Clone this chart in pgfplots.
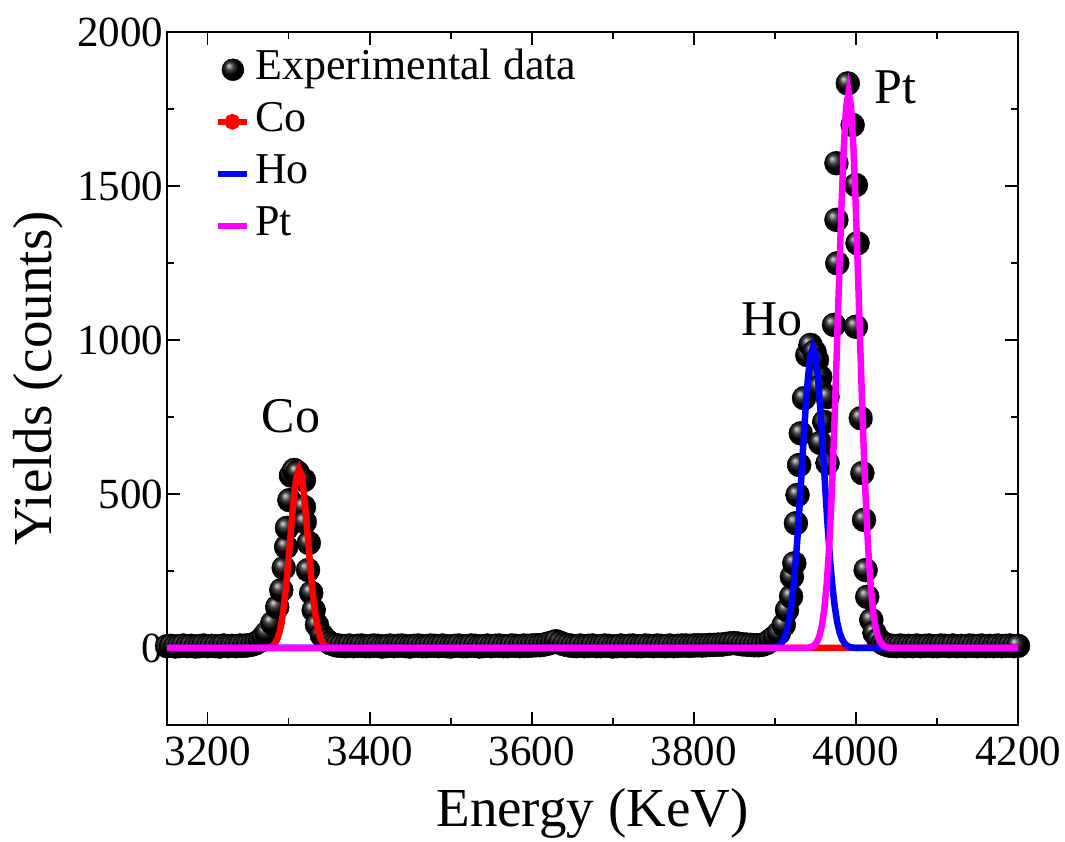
\documentclass[border=0pt]{standalone}
\usepackage{fontspec}
\setmainfont{Liberation Serif}
\usepackage{pgfplots}
\pgfplotsset{compat=1.18}
\usepackage{pgfplotstable}

\definecolor{fitred}{RGB}{255,0,0}
\definecolor{fitblue}{RGB}{0,0,255}
\definecolor{fitmag}{RGB}{255,0,255}

% measured spectrum
\pgfplotstableread{
E Y
3150 6
3155 7
3160 5
3165 6
3170 8
3175 6
3180 7
3185 5
3190 6
3195 8
3200 6
3205 7
3210 6
3215 5
3220 8
3225 6
3230 7
3235 6
3240 8
3245 7
3250 9
3255 11
3260 16
3265 24
3269 36
3273 49
3280 81
3286 133
3291 188
3294 260
3297 328
3298 390
3301 480
3303 560
3307 578
3311 570
3319 545
3319 458
3320 409
3325 341
3324 253
3328 179
3331 123
3335 75
3341 42
3346 26
3351 16
3356 11
3360 8
3365 7
3370 6
3375 8
3380 6
3385 7
3390 8
3395 6
3400 6
3405 8
3410 7
3415 5
3420 6
3425 8
3430 6
3435 7
3440 8
3445 6
3450 5
3455 7
3460 8
3465 6
3470 6
3475 8
3480 7
3485 6
3490 8
3495 6
3500 5
3505 7
3510 8
3515 6
3520 6
3525 8
3530 7
3535 5
3540 6
3545 8
3550 6
3555 7
3560 8
3565 6
3570 6
3575 8
3580 7
3585 6
3590 8
3595 7
3600 8
3605 9
3610 9
3615 11
3620 14
3625 18
3630 22
3635 17
3640 12
3645 9
3650 7
3655 6
3660 8
3665 6
3670 7
3675 8
3680 6
3685 6
3690 8
3695 7
3700 5
3705 6
3710 8
3715 6
3720 7
3725 8
3730 6
3735 6
3740 8
3745 7
3750 6
3755 8
3760 7
3765 6
3770 8
3775 6
3780 7
3785 8
3790 8
3795 7
3800 8
3805 9
3810 8
3815 9
3820 10
3825 10
3830 11
3835 11
3840 13
3845 15
3850 16
3855 14
3860 12
3865 11
3870 10
3875 9
3880 9
3885 11
3890 16
3895 26
3900 36
3905 49
3911 75
3915 123
3920 167
3921 231
3924 275
3926 405
3928 497
3930 594
3932 697
3936 811
3940 951
3944 984
3949 961
3952 935
3956 880
3955 847
3965 815
3961 734
3956 666
3965 600
3973 1049
3977 1249
3976 1390
3976 1574
3990 1833
3996 1698
4000 1503
4002 1314
4000 1043
4006 746
4008 568
4010 416
4012 253
4014 166
4019 91
4023 49
4028 28
4033 16
4037 11
4041 8
4045 7
4050 6
4055 8
4060 6
4065 7
4070 6
4075 8
4080 6
4085 7
4090 8
4095 6
4100 6
4105 8
4110 7
4115 6
4120 8
4125 6
4130 7
4135 6
4140 8
4145 7
4150 6
4155 8
4160 6
4165 7
4170 6
4175 8
4180 6
4185 7
4190 8
4195 6
4200 7
}\expdata

% fitted Co peak
\pgfplotstableread{
E Y
3150 0
3271 0
3274 1.1
3277 2.7
3280 6.4
3283 14.1
3286 28.5
3289 53.7
3292 93.8
3295 152.1
3298 228.9
3301 319.9
3304 415.0
3307 499.8
3310 558.8
3313 580
3316 558.8
3319 499.8
3322 415.0
3325 319.9
3328 228.9
3331 152.1
3334 93.8
3337 53.7
3340 28.5
3343 14.1
3346 6.4
3349 2.7
3352 1.1
3355 0
4200 0
}\cofit

% fitted Ho peak
\pgfplotstableread{
E Y
3150 0
3893 0
3896 0.8
3899 1.7
3902 3.8
3905 7.7
3908 15.0
3911 27.9
3914 49.1
3917 82.6
3920 131.9
3923 200.8
3926 290.7
3929 400.8
3932 525.9
3935 656.9
3938 780.7
3941 883.4
3944 951.2
3947 975
3950 951.2
3953 883.4
3956 780.7
3959 656.9
3962 525.9
3965 400.8
3968 290.7
3971 200.8
3974 131.9
3977 82.6
3980 49.1
3983 27.9
3986 15.0
3989 7.7
3992 3.8
3995 1.7
3998 0.8
4001 0
4200 0
}\hofit

% fitted Pt peak
\pgfplotstableread{
E Y
3150 0
3937 0
3940 0.8
3943 2.0
3946 4.5
3949 9.8
3952 20.1
3955 39.0
3958 72.0
3961 126.0
3964 208.8
3967 328.3
3970 489.7
3973 692.0
3976 927.6
3979 1178.8
3982 1420.5
3985 1622.7
3988 1757.6
3991 1805
3994 1757.6
3997 1622.7
4000 1420.5
4003 1178.8
4006 927.6
4009 692.0
4012 489.7
4015 328.3
4018 208.8
4021 126.0
4024 72.0
4027 39.0
4030 20.1
4033 9.8
4036 4.5
4039 2.0
4042 0.8
4045 0
4200 0
}\ptfit

\begin{document}
\begin{tikzpicture}
\begin{axis}[
  set layers,
  scale only axis, width=851pt, height=693pt,
  xmin=3150, xmax=4200, ymin=-250, ymax=2000,
  xtick={3200,3400,3600,3800,4000,4200},
  ytick={0,500,1000,1500,2000},
  minor x tick num=1, minor y tick num=1,
  tick align=inside,
  major tick length=13pt, minor tick length=7pt,
  every tick/.style={black, line width=1.8pt},
  axis line style={line width=2pt},
  tick label style={font=\fontsize{43}{50}\selectfont},
  /pgf/number format/assume math mode=true,
  /pgf/number format/1000 sep={},
  xticklabel style={yshift=-8pt},
  label style={font=\fontsize{55}{64}\selectfont},
  xlabel={Energy (KeV)}, ylabel={Yields (counts)},
  xlabel style={at={([yshift=-101pt]axis description cs:0.5,0)}, anchor=base},
  ylabel style={at={([xshift=-115pt]axis description cs:0,0.5)}, anchor=base},
  legend style={draw=none, fill=none, inner sep=0pt, outer sep=0pt,
    at={(axis description cs:0.056,0.983)}, anchor=north west,
    font=\fontsize{44}{52}\selectfont, row sep=0pt,
    nodes={text height=31pt, text depth=11pt, inner sep=5pt}},
  legend cell align=left,
]
\addplot[only marks, mark=ball, mark size=12pt, mark options={ball color=black},
  legend image code/.code={\draw[only marks, mark=ball, mark size=11pt,
    mark options={ball color=black}] plot coordinates {(15pt,0pt)};}]
  table[x=E, y=Y] {\expdata};
\addlegendentry{Experimental data}

\addplot[fitred, line width=6.5pt, no markers, on layer=axis foreground,
  legend image code/.code={\draw[fitred, line width=6.5pt] (0pt,0pt) -- (29pt,0pt);
    \fill[fitred] (14.5pt,0pt) circle (4.5pt);}]
  table[x=E, y=Y] {\cofit};
\addlegendentry{Co}

\addplot[fitblue, line width=6.5pt, no markers, on layer=axis foreground,
  legend image code/.code={\draw[fitblue, line width=6.5pt] (0pt,0pt) -- (29pt,0pt);}]
  table[x=E, y=Y] {\hofit};
\addlegendentry{Ho}

\addplot[fitmag, line width=6.5pt, no markers, on layer=axis foreground,
  legend image code/.code={\draw[fitmag, line width=6.5pt] (0pt,0pt) -- (29pt,0pt);}]
  table[x=E, y=Y] {\ptfit};
\addlegendentry{Pt}

\node[font=\fontsize{50}{58}\selectfont, anchor=base] at (axis cs:3303,701) {Co};
\node[font=\fontsize{50}{58}\selectfont, anchor=base] at (axis cs:3897,1016) {Ho};
\node[font=\fontsize{50}{58}\selectfont, anchor=base] at (axis cs:4049,1769) {Pt};
\end{axis}
\path (-167pt,-111pt) rectangle (898pt,725pt);
\end{tikzpicture}
\end{document}
